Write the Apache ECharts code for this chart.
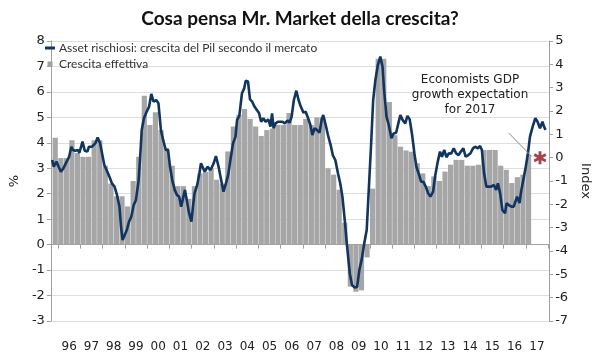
<!DOCTYPE html>
<html>
<head>
<meta charset="utf-8">
<script src="https://cdn.jsdelivr.net/npm/echarts@6/dist/echarts.min.js"></script>
<style>html,body{margin:0;padding:0;background:#fff;}#c{width:600px;height:360px;}</style>
</head>
<body>
<div id="c"></div>
<script>
// ---- data ----
const titleText = 'Cosa pensa Mr. Market della crescita?';
const lineName = 'Asset rischiosi: crescita del Pil secondo il mercato';
const barName = 'Crescita effettiva';
const yearTicks = [1996,1997,1998,1999,2000,2001,2002,2003,2004,2005,2006,2007,2008,2009,2010,2011,2012,2013,2014,2015,2016,2017,2018];
const yearLabels = ['96','97','98','99','00','01','02','03','04','05','06','07','08','09','10','11','12','13','14','15','16','17'];
// quarterly actual growth (%), first quarter = 1995 Q4
const barFirstYear = 1995, barFirstQuarter = 4;
const growthActual = [
 4.2,
 3.4, 3.4, 4.1, 3.6,
 3.45, 3.45, 4.1, 4.1,
 3.1, 2.4, 1.9, 1.9,
 1.5, 2.5, 3.45, 5.85,
 4.7, 5.2, 4.5, 3.8,
 3.1, 2.3, 2.3, 1.8,
 2.3, 2.8, 2.85, 3.0,
 2.55, 2.4, 3.66, 4.64,
 5.1, 5.33, 4.94, 4.64,
 4.27, 4.5, 4.56, 4.7,
 4.7, 5.17, 4.7, 4.7,
 4.94, 4.7, 5.0, 5.0,
 3.0, 2.75, 2.16, 0.86,
 -1.65, -1.85, -1.8, -0.5,
 2.2, 7.3, 7.3, 5.6,
 4.3, 3.85, 3.7, 3.65,
 3.2, 2.8, 2.3, 2.68,
 2.5, 2.87, 3.14, 3.33,
 3.33, 3.1, 3.1, 3.14,
 3.72, 3.72, 3.72, 3.1,
 2.94, 2.42, 2.65, 2.75,
 3.53
];
// market-implied growth index (right axis), dates in decimal years
const marketDates = [
1995.74,1995.81,1995.93,1996.03,1996.13,1996.24,1996.39,1996.50,1996.60,1996.67,1996.77,1996.89,1996.96,
1997.10,1997.20,1997.32,1997.39,1997.53,1997.61,1997.68,1997.78,1997.89,1997.97,
1998.08,1998.18,1998.32,1998.42,1998.54,1998.66,1998.76,1998.83,1998.90,1998.97,
1999.09,1999.19,1999.29,1999.40,1999.50,1999.62,1999.69,1999.76,1999.86,1999.98,
2000.09,2000.19,2000.29,2000.41,2000.51,2000.62,2000.72,2000.84,2000.94,
2001.03,2001.13,2001.24,2001.34,2001.44,2001.53,2001.63,2001.70,2001.78,2001.87,2001.99,
2002.06,2002.13,2002.25,2002.35,2002.42,2002.52,2002.59,2002.71,2002.85,2002.99,
2003.09,2003.21,2003.31,2003.43,2003.54,2003.64,2003.74,2003.86,2003.97,
2004.04,2004.14,2004.26,2004.36,2004.43,2004.53,2004.62,2004.72,2004.82,2004.93,
2005.03,2005.12,2005.22,2005.32,2005.44,2005.54,2005.61,2005.68,2005.77,2005.87,2005.98,
2006.08,2006.18,2006.30,2006.40,2006.49,2006.59,2006.70,2006.80,2006.90,
2007.02,2007.12,2007.23,2007.33,2007.42,2007.52,2007.62,2007.74,2007.84,2007.91,
2008.02,2008.12,2008.24,2008.34,2008.45,2008.57,2008.67,2008.77,2008.88,2008.98,
2009.10,2009.20,2009.32,2009.43,2009.53,2009.63,2009.75,2009.86,2009.96,
2010.06,2010.15,2010.25,2010.36,2010.47,2010.57,2010.64,2010.75,2010.85,2010.97,
2011.07,2011.18,2011.28,2011.37,2011.47,2011.59,2011.69,2011.79,2011.90,
2012.00,2012.09,2012.19,2012.30,2012.40,2012.51,2012.62,2012.72,2012.84,2012.94,
2013.05,2013.15,2013.24,2013.34,2013.44,2013.55,2013.65,2013.77,2013.87,2013.98,
2014.09,2014.20,2014.30,2014.42,2014.52,2014.63,2014.73,2014.85,2014.95,
2015.03,2015.13,2015.23,2015.35,2015.45,2015.57,2015.67,2015.75,2015.85,2015.95,
2016.07,2016.14,2016.24,2016.36,2016.46,2016.53,2016.61,2016.72,2016.79,2016.89,
2017.00,2017.10,2017.19,2017.31,2017.43,2017.53,2017.64,2017.75,2017.82,2017.89
];
const marketValues = [
-0.1,-0.39,-0.17,-0.39,-0.6,-0.46,-0.17,0.04,0.47,0.33,0.3,0.33,0.21,
0.69,0.3,0.26,0.47,0.47,0.44,0.62,0.86,0.62,0.64,
-0.31,-0.53,-0.84,-1.1,-1.24,-1.64,-2.1,-2.96,-3.53,-3.56,
-3.1,-2.74,-2.53,-2.03,-1.81,-0.96,0.04,1.19,1.69,1.97,
2.19,2.73,2.4,2.47,2.33,1.19,0.76,0.33,0.33,
-0.39,-0.96,-1.38,-1.6,-1.67,-2.1,-1.67,-1.38,-1.81,-2.31,-2.74,
-2.1,-1.53,-1.17,-0.67,-0.24,-0.46,-0.6,-0.39,-0.53,-0.24,
0.07,-0.39,-0.88,-1.46,-1.1,-0.74,-0.1,0.62,0.9,
1.62,1.79,2.76,2.97,3.3,3.27,2.5,2.4,2.19,2.04,
1.9,1.54,1.69,1.54,1.64,1.33,1.9,1.26,1.47,1.54,1.54,
1.54,1.47,1.59,1.5,1.76,2.47,2.87,2.47,2.19,
1.93,1.97,1.69,1.4,0.97,1.26,1.19,1.07,1.64,1.83,
1.4,0.97,0.54,0.1,-0.1,-0.67,-1.1,-1.67,-2.74,-3.81,
-4.96,-5.46,-5.56,-5.54,-4.81,-4.39,-3.67,-3.1,-1.24,
0.62,2.47,3.33,3.97,4.33,3.9,2.9,1.76,1.4,0.83,
1.04,1.07,1.47,1.83,1.62,1.47,1.79,1.64,0.97,
0.19,-0.39,-0.67,-1.03,-1.03,-1.24,-1.53,-1.67,-1.46,-0.74,
-0.17,0.26,0.04,0.33,0.02,0.19,0.17,0.4,0.19,0.11,
0.26,0.4,0.04,0.11,0.19,0.4,0.47,0.4,0.5,
0.33,-0.67,-1.24,-1.24,-1.24,-1.17,-1.38,-1.1,-1.53,-2.24,
-2.38,-1.95,-2.03,-2.1,-2.1,-2.17,-1.67,-1.95,-1.46,-0.96,
-0.39,0.19,0.9,1.33,1.69,1.54,1.26,1.54,1.33,1.19
];
// economists' expectation for 2017 (index scale)
const expectDate = [2017.64];
const expectValue = [0];
const annotationLines = ['Economists GDP', 'growth expectation', 'for 2017'];
const arrowFrom = [2016.24, 1.05];
const arrowTo = [2017.27, 0.05];

// ---- build ----
const barData = growthActual.map((v, i) => {
  const q = (barFirstQuarter - 1) + i;
  const t = barFirstYear + q / 4 + 0.125;
  return [t, v];
});
const lineData = marketDates.map((t, i) => [t, marketValues[i]]);
const starData = expectDate.map((t, i) => [t, expectValue[i]]);
const labelPos = yearLabels.map((s, i) => yearTicks[i] + 0.5);

const asterisk = 'path://M-1.3,-6L1.3,-6L1.3,6L-1.3,6Z M4.546,-4.126L5.846,-1.874L-4.546,4.126L-5.846,1.874Z M5.846,1.874L4.546,4.126L-5.846,-1.874L-4.546,-4.126Z';
const NAVY = '#0f3563';
const axisFont = 'DejaVu Sans, Verdana, sans-serif';

const chart = echarts.init(document.getElementById('c'), null, {renderer: 'canvas'});
chart.setOption({
  animation: false,
  backgroundColor: '#ffffff',
  title: {
    text: titleText, left: 'center', top: 4,
    textStyle: {fontFamily: 'Lato, sans-serif', fontWeight: 'bold', fontSize: 19, color: '#111'}
  },
  legend: {
    orient: 'vertical', left: 40, top: 37, itemGap: 4,
    itemWidth: 10, itemHeight: 5,
    textStyle: {fontFamily: 'Lato, sans-serif', fontSize: 12, color: '#333', padding: [0, 0, 0, -1]},
    data: [
      {name: lineName, icon: 'path://M0,0H10V3H0Z', itemStyle: {color: NAVY}},
      {name: barName, icon: 'path://M0,0H5V5H0Z', itemStyle: {color: '#a0a0a0'}}
    ]
  },
  grid: {left: 37, right: 44, top: 41, bottom: 39},
  xAxis: {
    type: 'value', min: 1995.68, max: 2018.05, position: 'bottom', offset: 12,
    axisLine: {show: true, lineStyle: {color: '#a0a0a0'}},
    axisTick: {show: true, length: 4, customValues: yearTicks, lineStyle: {color: '#a0a0a0'}},
    axisLabel: {
      customValues: labelPos, margin: 8,
      formatter: (v) => yearLabels[Math.round(v - 0.5) - yearTicks[0]],
      fontFamily: axisFont, fontSize: 12, color: '#222'
    },
    splitLine: {show: false}
  },
  yAxis: [
    {
      type: 'value', min: -3, max: 8, interval: 1, position: 'left',
      name: '%', nameLocation: 'middle', nameGap: 26, nameRotate: 90,
      nameTextStyle: {fontFamily: axisFont, fontSize: 13, color: '#222'},
      axisLine: {show: true, lineStyle: {color: '#a0a0a0'}},
      axisTick: {show: true, length: 4, lineStyle: {color: '#a0a0a0'}},
      axisLabel: {fontFamily: axisFont, fontSize: 13, color: '#222', margin: 6},
      splitLine: {show: true, lineStyle: {color: '#dedede', width: 1}}
    },
    {
      type: 'value', min: -7, max: 5, interval: 1, position: 'right',
      name: 'Index', nameLocation: 'middle', nameGap: 27, nameRotate: -90,
      nameTextStyle: {fontFamily: axisFont, fontSize: 13, color: '#222'},
      axisLine: {show: true, lineStyle: {color: '#a0a0a0'}},
      axisTick: {show: true, length: 4, lineStyle: {color: '#a0a0a0'}},
      axisLabel: {fontFamily: axisFont, fontSize: 13, color: '#222', margin: 6},
      splitLine: {show: false}
    }
  ],
  series: [
    {
      name: barName, type: 'bar', yAxisIndex: 0, data: barData,
      barWidth: 5.2, itemStyle: {color: '#a6a6a6'}, z: 2
    },
    {
      name: lineName, type: 'line', yAxisIndex: 1, data: lineData,
      showSymbol: false, symbol: 'none', smooth: false,
      lineStyle: {color: NAVY, width: 2.6}, itemStyle: {color: NAVY}, z: 4,
      markLine: {
        silent: true, symbol: ['none', 'arrow'], symbolSize: [0, 6],
        lineStyle: {color: '#8a8a8a', width: 1, type: 'solid'},
        label: {show: false},
        data: [[{coord: arrowFrom}, {coord: arrowTo}]]
      }
    },
    {
      name: 'expectation', type: 'scatter', yAxisIndex: 1, data: starData,
      symbol: asterisk, symbolSize: 13, itemStyle: {color: '#8f141b'}, z: 5
    }
  ],
  graphic: [{
    type: 'text', left: 470 - 60, top: 72, z: 10,
    style: {
      text: annotationLines.join('\n'), align: 'center', width: 120,
      x: 60, textAlign: 'center',
      font: '12px "DejaVu Sans", Verdana, sans-serif', fill: '#222', lineHeight: 15
    }
  }]
});
</script>
</body>
</html>
